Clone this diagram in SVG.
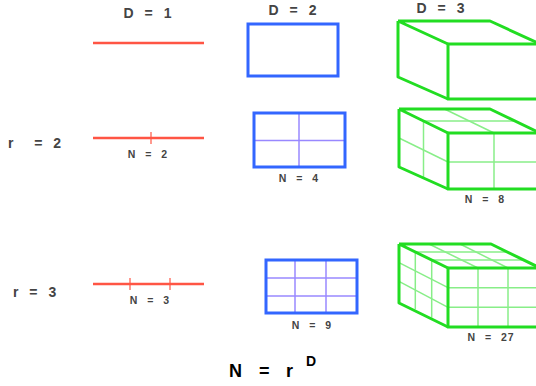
<svg xmlns="http://www.w3.org/2000/svg" width="536" height="386" viewBox="0 0 536 386">
<style>
.lbl{font-family:"Liberation Sans",Arial,sans-serif;font-weight:bold;fill:#444;font-size:14px;letter-spacing:1px;word-spacing:5px}
.sm{font-family:"Liberation Sans",Arial,sans-serif;font-weight:bold;fill:#444;font-size:10.5px;letter-spacing:1px;word-spacing:5px}
.big{font-family:"Liberation Sans",Arial,sans-serif;font-weight:900;fill:#000}
.red{stroke:#ff5544;stroke-width:2.5;fill:none}
.blue{stroke:#3366ff;stroke-width:3;fill:none}
.bgrid{stroke:#9988ff;stroke-width:1.5;fill:none}
.green{stroke:#22dd22;stroke-width:3;fill:none;stroke-linejoin:round}
.ggrid{stroke:#88ee88;stroke-width:1.5;fill:none}
</style>
<rect width="536" height="386" fill="#fff"/>
<g id="headers">
<text class="lbl" x="148" y="18" text-anchor="middle">D = 1</text>
<text class="lbl" x="293" y="15" text-anchor="middle">D = 2</text>
<text class="lbl" x="441" y="13" text-anchor="middle">D = 3</text>
<text class="lbl" x="8" y="148" xml:space="preserve">r  = 2</text>
<text class="lbl" x="13" y="297">r = 3</text>
</g>
<g id="line1"><line class="red" x1="93" y1="43" x2="204" y2="43"/></g>
<g id="line2">
<line class="red" x1="93" y1="138" x2="204" y2="138"/>
<line stroke="#ff5544" stroke-width="1.2" x1="151" y1="132" x2="151" y2="144"/>
<text class="sm" x="148" y="158" text-anchor="middle">N = 2</text>
</g>
<g id="line3">
<line class="red" x1="93" y1="284" x2="204" y2="284"/>
<line stroke="#ff5544" stroke-width="1.2" x1="130" y1="278" x2="130" y2="290"/>
<line stroke="#ff5544" stroke-width="1.2" x1="170" y1="278" x2="170" y2="290"/>
<text class="sm" x="150" y="304" text-anchor="middle">N = 3</text>
</g>
<g id="square1"><rect class="blue" x="248" y="24" width="90" height="52"/></g>
<g id="square2">
<line class="bgrid" x1="299" y1="113" x2="299" y2="167"/>
<line class="bgrid" x1="254" y1="140.5" x2="345" y2="140.5"/>
<rect class="blue" x="254" y="113" width="91" height="54"/>
<text class="sm" x="299" y="182" text-anchor="middle">N = 4</text>
</g>
<g id="square3">
<line class="bgrid" x1="295" y1="260" x2="295" y2="313"/>
<line class="bgrid" x1="326" y1="260" x2="326" y2="313"/>
<line class="bgrid" x1="266" y1="278" x2="357" y2="278"/>
<line class="bgrid" x1="266" y1="296" x2="357" y2="296"/>
<rect class="blue" x="266" y="260" width="91" height="53"/>
<text class="sm" x="312" y="329" text-anchor="middle">N = 9</text>
</g>
<g id="cube1">
<path class="green" d="M398 21 L490 21 L540 44 M398 21 L398 77 L448 99 M398 21 L448 44"/>
<rect class="green" x="448" y="44" width="92" height="55"/>
</g>
<g id="cube2">
<line class="ggrid" x1="494" y1="133" x2="494" y2="189"/>
<line class="ggrid" x1="448" y1="162" x2="540" y2="162"/>
<line class="ggrid" x1="423.5" y1="121" x2="423.5" y2="178"/>
<line class="ggrid" x1="399" y1="138" x2="448" y2="162"/>
<line class="ggrid" x1="444.5" y1="109" x2="494" y2="133"/>
<line class="ggrid" x1="423.5" y1="121" x2="515" y2="121"/>
<path class="green" d="M399 109 L490 109 L540 133 M399 109 L399 167 L448 189 M399 109 L448 133"/>
<rect class="green" x="448" y="133" width="92" height="56"/>
<text class="sm" x="485" y="203" text-anchor="middle">N = 8</text>
</g>
<g id="cube3">
<line class="ggrid" x1="478" y1="268" x2="478" y2="327"/>
<line class="ggrid" x1="508" y1="268" x2="508" y2="327"/>
<line class="ggrid" x1="448" y1="287.7" x2="540" y2="287.7"/>
<line class="ggrid" x1="448" y1="307.3" x2="540" y2="307.3"/>
<line class="ggrid" x1="415.3" y1="252" x2="415.3" y2="309.3"/>
<line class="ggrid" x1="431.7" y1="260" x2="431.7" y2="317.7"/>
<line class="ggrid" x1="399" y1="262.7" x2="448" y2="287.7"/>
<line class="ggrid" x1="399" y1="281.3" x2="448" y2="307.3"/>
<line class="ggrid" x1="429" y1="244" x2="478" y2="268"/>
<line class="ggrid" x1="460" y1="244" x2="508" y2="268"/>
<line class="ggrid" x1="415.3" y1="252" x2="508" y2="252"/>
<line class="ggrid" x1="431.7" y1="260" x2="524" y2="260"/>
<path class="green" d="M399 244 L491 244 L540 268 M399 244 L399 303 L448 327 M399 244 L448 268"/>
<rect class="green" x="448" y="268" width="92" height="59"/>
<text class="sm" x="491" y="341" text-anchor="middle">N = 27</text>
</g>
<g id="formula">
<text class="big" font-size="18"><tspan x="229" y="377">N</tspan><tspan x="259" y="377">=</tspan><tspan x="286" y="377">r</tspan></text>
<text class="big" x="306" y="366" font-size="14">D</text>
</g>
</svg>
